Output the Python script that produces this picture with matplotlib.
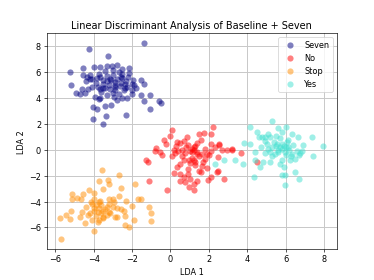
import numpy as np
import matplotlib
matplotlib.use("Agg")
import matplotlib.pyplot as plt

# LDA projections (LDA 1, LDA 2)
seven_x = [-1.38, -4.22, -3.26, -5.24, -5.2, -4.54, -4.0, -3.66, -3.3, -3.03, -2.78, -2.52,
           -2.17, -2.17, -4.54, -4.36, -4.19, -3.84, -3.66, -3.49, -3.31, -3.14, -2.87, -2.52,
           -2.35, -1.94, -1.56, -1.38, -1.91, -2.26, -4.92, -4.71, -4.45, -4.31, -4.08, -3.66,
           -3.40, -3.14, -2.87, -2.61, -2.38, -1.99, -3.92, -3.66, -3.31, -2.96, -2.78, -2.52,
           -2.26, -1.99, -1.56, -1.38, -1.07, -0.6, -0.51, -1.09, -4.05, -3.84, -3.40, -3.08,
           -3.75, -4.05, -3.38, -2.31, -3.49, -3.0, -2.8, -2.6, -3.2, -3.5, -2.4, -2.2, -3.7,
           -4.2, -3.9, -4.6, -2.0, -2.9, -3.3, -2.5, -3.0, -3.6, -4.4, -2.7, -1.8,
           -3.1, -2.9, -3.4, -2.7, -4.1, -3.8, -2.3, -3.0, -3.5, -2.6]
seven_y = [8.27, 7.78, 7.24, 6.0, 5.05, 6.37, 6.4, 6.4, 6.47, 6.52, 6.6, 6.24, 6.3, 5.95,
           5.77, 5.64, 5.52, 5.57, 5.64, 5.39, 5.31, 5.49, 5.26, 5.59, 5.13, 5.39, 5.44, 5.13,
           5.0, 4.87, 4.41, 4.36, 4.41, 4.74, 4.87, 4.74, 4.82, 4.74, 4.61, 4.92, 4.82, 4.61,
           4.1, 4.05, 4.23, 4.1, 3.84, 4.05, 4.02, 4.36, 4.23, 3.79, 4.23, 3.76, 3.63, 3.2,
           3.32, 3.2, 3.38, 3.45, 3.97, 2.42, 2.63, 2.68, 1.98, 5.8, 5.5, 5.2, 5.0, 4.8, 4.6,
           5.6, 5.9, 5.8, 5.2, 4.7, 5.1, 4.9, 5.7, 5.9, 4.4, 4.5, 5.3, 6.0, 4.8,
           5.4, 5.0, 6.1, 4.3, 5.5, 4.9, 5.3, 6.2, 5.1, 5.6]

no_x = [0.09, 0.0, -0.35, -0.21, -0.78, -0.83, -0.56, -0.43, -1.25, -1.18, 0.09, 0.26, 0.35,
        0.52, 0.87, 0.9, 1.22, 1.48, 1.74, 2.09, 2.23, 2.12, 2.52, 2.96, 3.22, 2.7, 2.47,
        1.88, 1.65, 1.39, 1.13, 0.78, 0.7, 0.96, 1.3, 1.65, 1.57, 2.09, 1.95, 2.43, 0.35,
        0.52, 0.7, 0.49, 0.78, 1.04, 1.22, 1.39, 0.96, 1.22, 0.17, -0.17, -1.1, 1.0, 1.2,
        0.8, 1.5, 0.6, 1.8, 1.1, 0.4, 2.0, 1.3, 0.9, 1.7, 0.3, 1.4, 0.7, 2.3, 1.0, 1.9, 0.5,
        1.6, 4.49, 3.70, 2.54, 2.78, 2.49, 3.18,
        1.1, 1.4, 0.6, 1.8, 1.2, 0.9, 1.5, 2.1, 0.2, 1.3]
no_y = [1.55, 1.11, 0.77, 0.46, 0.15, -0.05, -0.13, -0.39, -0.82, -0.95, -0.44, -0.26, 0.59,
        0.51, 1.03, 0.34, 0.21, 1.24, 1.29, 1.24, 1.75, 0.46, 0.41, 0.0, 0.08, 0.0, -0.57,
        -0.31, -0.31, -0.31, -0.18, -0.26, -0.77, -0.82, -0.95, -1.21, -1.73, -2.11, -2.32,
        -1.73, -1.34, -1.86, -2.11, -2.37, -2.5, -2.24, -2.63, -2.42, -2.84, -3.09, -1.8,
        -3.09, -2.42, -0.1, 0.0, 0.2, -0.5, -0.5, 0.1, -0.6, -0.1, -0.4, -1.2, -1.5, -0.9,
        0.3, 0.5, 0.7, 0.2, -1.0, -1.4, -1.1, 0.8, -0.95, -0.26, 0.46, -2.24, -1.6, 0.0,
        0.1, -0.2, 0.0, -0.7, -0.8, -1.9, -1.6, -0.1, 0.0, 0.3]

stop_x = [-3.57, -2.7, -3.7, -3.28, -3.22, -4.27, -4.57, -3.98, -3.49, -2.57, -1.87, -5.11,
          -5.15, -4.85, -4.68, -4.15, -3.66, -3.22, -2.7, -2.96, -2.3, -1.69, -1.51, -2.0,
          -1.12, -1.03, -1.03, -1.91, -2.38, -2.14, -2.35, -2.43, -2.78, -3.13, -3.49, -3.75,
          -3.96, -4.45, -4.71, -4.62, -5.24, -5.2, -5.46, -5.76, -5.71, -4.0, -3.8, -3.6,
          -3.4, -4.2, -3.9, -3.3, -3.0, -4.4, -3.7, -3.5, -4.1, -2.9, -3.2, -4.3, -3.6, -3.0,
          -4.0, -2.6, -3.8, -3.9, -3.5, -3.2, -4.1, -3.7, -3.3, -4.0, -2.8]
stop_y = [-1.54, -1.97, -2.41, -2.31, -2.67, -3.08, -3.44, -3.33, -3.0, -2.92, -2.64, -3.38,
          -3.82, -3.69, -3.82, -4.03, -3.95, -3.77, -3.59, -4.03, -3.97, -3.77, -3.77, -4.33,
          -4.41, -4.87, -5.51, -5.44, -5.82, -5.95, -5.13, -4.72, -5.18, -4.92, -5.18, -5.44,
          -6.28, -5.64, -5.23, -4.79, -5.38, -4.74, -5.05, -5.26, -6.92, -4.5, -4.8, -4.3,
          -4.6, -4.9, -5.1, -5.0, -4.4, -4.4, -4.0, -5.3, -5.4, -5.2, -4.2, -5.0, -4.9, -3.8,
          -3.8, -4.6, -5.6, -4.3, -4.7, -4.8, -4.2, -4.5, -4.4, -4.7, -4.5]

yes_x = [5.3, 4.14, 5.62, 6.02, 5.8, 4.52, 4.78, 4.6, 5.1, 5.2, 6.31, 6.66, 7.36, 7.97, 6.89,
         5.53, 5.79, 6.05, 6.14, 5.70, 5.27, 5.01, 4.14, 3.83, 4.4, 4.92, 5.18, 5.44, 5.96,
         6.31, 6.75, 6.83, 7.41, 6.49, 6.23, 5.79, 5.70, 5.91, 4.83, 4.66, 4.4, 3.36, 3.76,
         2.78, 2.31, 6.49, 6.72, 5.79, 5.98, 5.96, 4.37, 5.6, 5.9, 6.2, 5.4, 5.1, 6.0, 5.3,
         6.4, 4.9, 5.7, 5.5, 6.6, 4.7, 6.1, 5.2, 5.8, 6.0, 5.5, 6.3, 5.6, 4.9, 6.7]
yes_y = [2.22, 1.8, 1.7, 1.75, 1.37, 1.37, 1.03, 0.98, 1.24, 0.98, 1.19, 0.98, 0.98, 0.28,
         0.34, 0.46, 0.46, 0.59, 0.21, 0.21, 0.26, 0.46, 0.46, 0.54, -0.18, -0.26, -0.18,
         -0.31, -0.18, -0.31, -0.26, -0.1, -0.44, -0.7, -0.77, -0.82, -1.08, -1.34, -0.95,
         -1.29, -0.77, -0.77, -1.13, -0.77, -1.08, -1.73, -2.24, -1.93, -1.93, -2.68, -2.11,
         0.0, 0.3, 0.0, 0.6, 0.1, -0.4, -0.5, 0.4, 0.7, 0.9, 1.1, -0.1, 0.2, 0.8, -0.9,
         0.1, 0.2, 0.3, -0.5, -0.2, 1.0, -0.4]

names = ["Seven", "No", "Stop", "Yes"]
colors = ["navy", "red", "darkorange", "turquoise"]
xs = [seven_x, no_x, stop_x, yes_x]
ys = [seven_y, no_y, stop_y, yes_y]

plt.figure(figsize=(6.4, 4.8), dpi=58.44)
ax = plt.gca()
ax.set_axisbelow(True)
for x, y, c, name in zip(xs, ys, colors, names):
    plt.scatter(x, y, color=c, alpha=.5, lw=0, s=58, label=name)
plt.grid(True, color="#c8c8c8", lw=1.2)
plt.legend(loc="best", shadow=False, scatterpoints=1)
plt.title("Linear Discriminant Analysis of Baseline + Seven")
plt.xlabel("LDA 1")
plt.ylabel("LDA 2")
plt.savefig("out.png", dpi=58.44)
